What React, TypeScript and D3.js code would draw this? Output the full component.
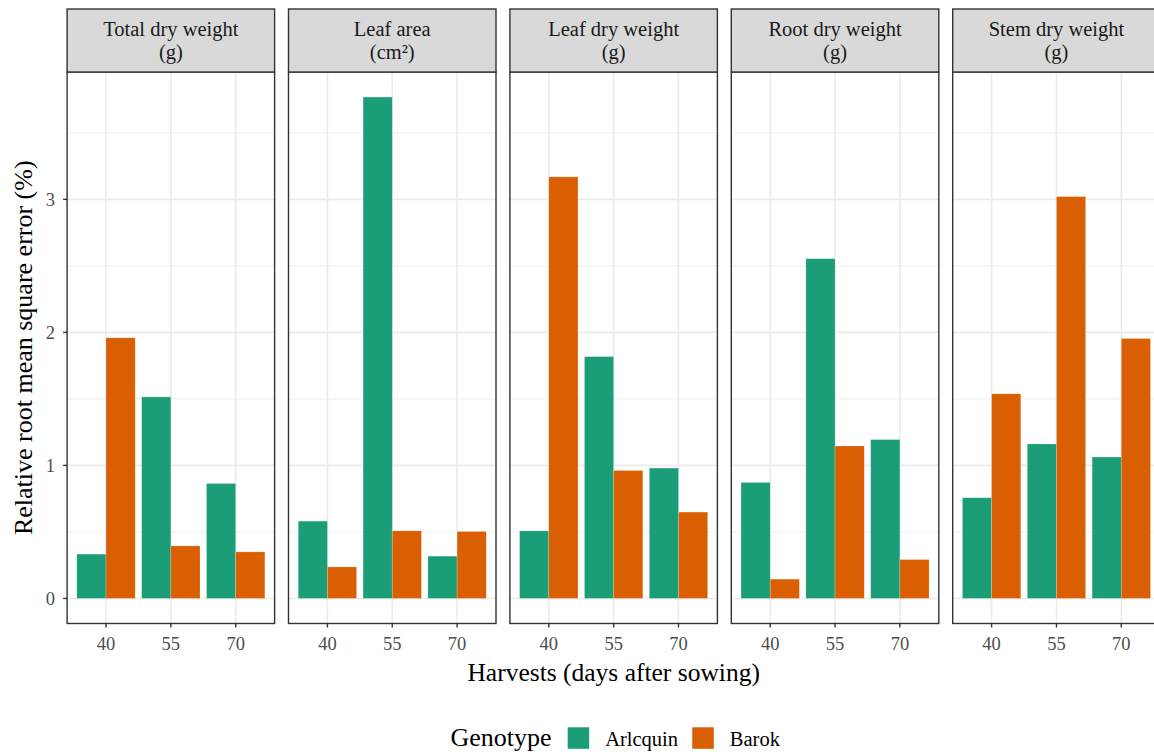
import React from "react";
import * as d3 from "d3";

const panels = ["Total dry weight", "Leaf area", "Leaf dry weight", "Root dry weight", "Stem dry weight"];
const units = ["(g)", "(cm²)", "(g)", "(g)", "(g)"];
const harvests = ["40", "55", "70"];
const genotypes = ["Arlcquin", "Barok"];
const colors = ["#1B9E77", "#D95F02"];
// values[panel][harvest] for each genotype
const arlequin = [
  [0.333, 1.515, 0.864],
  [0.581, 3.769, 0.318],
  [0.508, 1.818, 0.98],
  [0.872, 2.554, 1.194],
  [0.757, 1.161, 1.063],
];
const barok = [
  [1.959, 0.395, 0.35],
  [0.237, 0.508, 0.503],
  [3.169, 0.962, 0.649],
  [0.145, 1.146, 0.292],
  [1.538, 3.021, 1.954],
];
const yTicks = [0, 1, 2, 3];
const yMinor = [0.5, 1.5, 2.5, 3.5];

const FONT = "'Liberation Serif', 'DejaVu Serif', serif";

export default function App() {
  const W = 1154, H = 754;
  const left0 = 67.1, pitch = 221.4, panelW = 207.5;
  const stripTop = 9, stripBot = 72, panelBot = 623.5;
  const maxV = d3.max([...arlequin.flat(), ...barok.flat()]) as number;
  const pad = 0.05 * maxV;
  const y = d3.scaleLinear().domain([-pad, maxV + pad]).range([panelBot, stripBot]);
  const series = [arlequin, barok];

  return (
    <svg width={W} height={H} style={{ position: "absolute", left: 0, top: 0, background: "#fff" }} fontFamily={FONT}>
      <rect x={0} y={0} width={W} height={H} fill="#fff" />
      {panels.map((p, pi) => {
        const L = left0 + pi * pitch;
        const x = d3.scaleLinear().domain([0.4, 3.6]).range([L, L + panelW]);
        const unit = x(1) - x(0);
        return (
          <g key={p}>
            <rect x={L} y={stripBot} width={panelW} height={panelBot - stripBot} fill="#fff" />
            {yMinor.map((t) => (
              <line key={"mn" + t} x1={L} x2={L + panelW} y1={y(t)} y2={y(t)} stroke="#EBEBEB" strokeWidth={0.8} />
            ))}
            {yTicks.map((t) => (
              <line key={"mj" + t} x1={L} x2={L + panelW} y1={y(t)} y2={y(t)} stroke="#EBEBEB" strokeWidth={1.6} />
            ))}
            {harvests.map((h, hi) => (
              <line key={"vx" + h} x1={x(hi + 1)} x2={x(hi + 1)} y1={stripBot} y2={panelBot} stroke="#EBEBEB" strokeWidth={1.6} />
            ))}
            {harvests.map((h, hi) =>
              series.map((s, gi) => {
                const v = s[pi][hi];
                const bx = x(hi + 1) - 0.45 * unit + gi * 0.45 * unit;
                return (
                  <rect
                    key={h + "-" + gi}
                    x={bx}
                    y={y(v)}
                    width={0.45 * unit}
                    height={y(0) - y(v)}
                    fill={colors[gi]}
                    stroke="#fff"
                    strokeOpacity={0.35}
                    strokeWidth={0.6}
                  />
                );
              })
            )}
            <rect x={L} y={stripBot} width={panelW} height={panelBot - stripBot} fill="none" stroke="#333333" strokeWidth={1.4} />
            <rect x={L} y={stripTop} width={panelW} height={stripBot - stripTop} fill="#D9D9D9" stroke="#333333" strokeWidth={1.4} />
            <text x={L + panelW / 2} y={36} textAnchor="middle" fontSize={20.5} fill="#1A1A1A">{p}</text>
            <text x={L + panelW / 2} y={59} textAnchor="middle" fontSize={20.5} fill="#1A1A1A">{units[pi]}</text>
            {harvests.map((h, hi) => (
              <g key={"xt" + h}>
                <line x1={x(hi + 1)} x2={x(hi + 1)} y1={panelBot} y2={panelBot + 4} stroke="#333333" strokeWidth={1.4} />
                <text x={x(hi + 1)} y={650} textAnchor="middle" fontSize={18.5} fill="#4D4D4D">{h}</text>
              </g>
            ))}
          </g>
        );
      })}
      {yTicks.map((t) => (
        <g key={"yt" + t}>
          <line x1={left0 - 4} x2={left0} y1={y(t)} y2={y(t)} stroke="#333333" strokeWidth={1.4} />
          <text x={55} y={y(t)} dy="0.35em" textAnchor="end" fontSize={18.5} fill="#4D4D4D">{t}</text>
        </g>
      ))}
      <text
        transform={`translate(32, ${(stripBot + panelBot) / 2}) rotate(-90)`}
        textAnchor="middle"
        fontSize={26}
        fill="#000"
      >
        Relative root mean square error (%)
      </text>
      <text x={left0 + (4 * pitch + panelW) / 2} y={681} textAnchor="middle" fontSize={25.5} fill="#000">
        Harvests (days after sowing)
      </text>
      <g>
        <text x={450.5} y={746} fontSize={26} fill="#000">Genotype</text>
        {genotypes.map((g, gi) => {
          const kx = [567.7, 692.3][gi];
          return (
            <g key={g}>
              <rect x={kx} y={727.3} width={21.5} height={21.5} fill={colors[gi]} />
              <text x={kx + 37.5} y={745.7} fontSize={20.5} fill="#000">{g}</text>
            </g>
          );
        })}
      </g>
    </svg>
  );
}
